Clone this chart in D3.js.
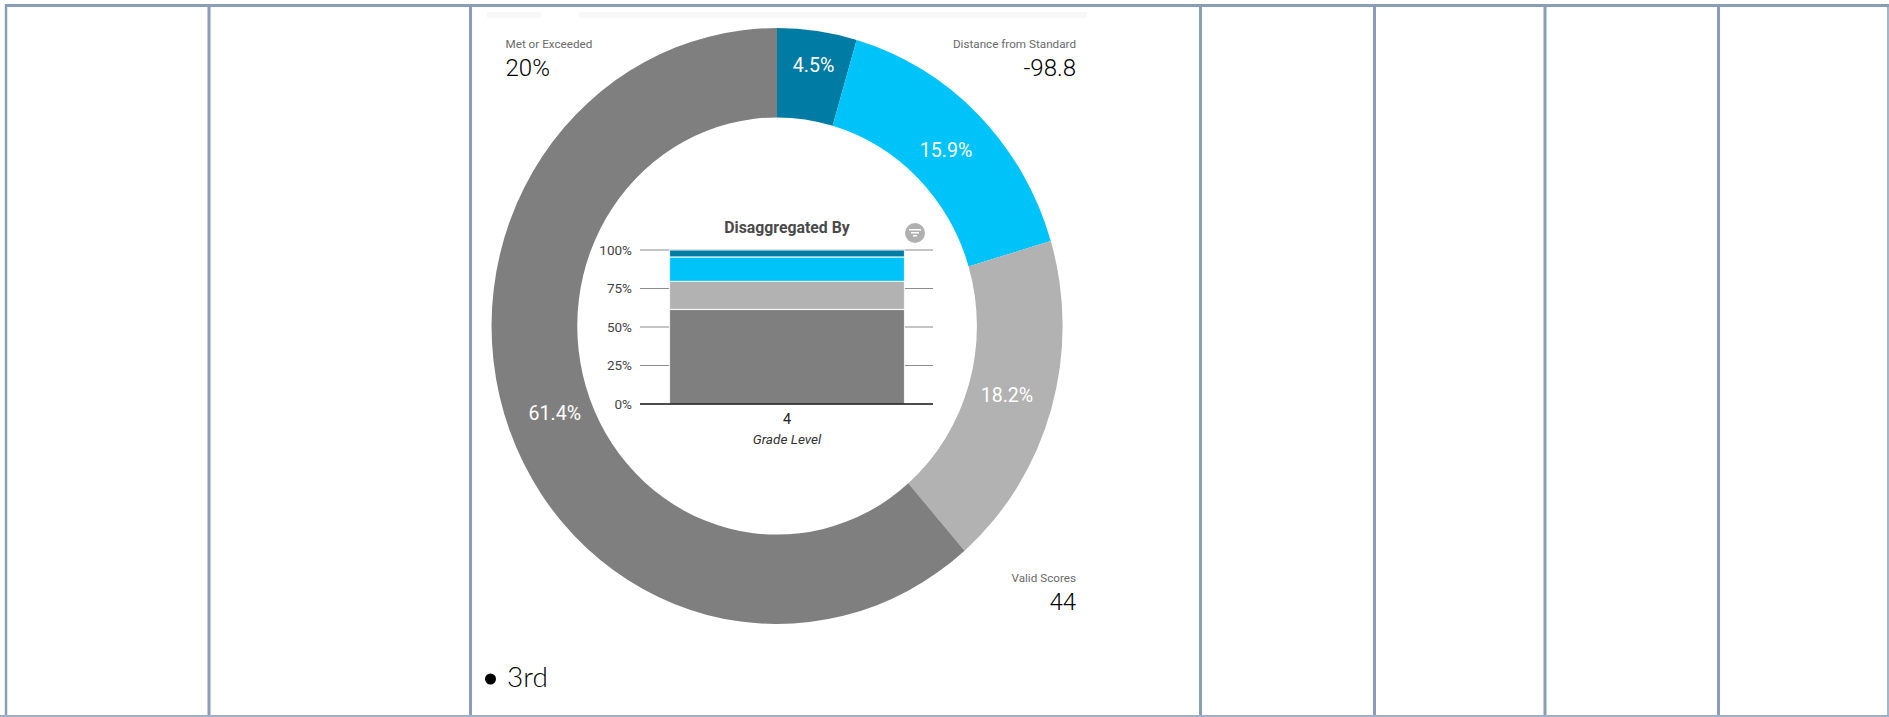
<!DOCTYPE html>
<html>
<head>
<meta charset="utf-8">
<script src="https://cdn.jsdelivr.net/npm/d3@7/dist/d3.min.js"></script>
<style>
  html, body { margin: 0; padding: 0; background: #fff; }
  svg { display: block; }
  text { font-family: Roboto, sans-serif; }
</style>
</head>
<body>
<svg id="chart" width="1889" height="717"></svg>
<script>
// Performance bands, listed clockwise from twelve o'clock
const bandKeys = ["exceeded", "met", "nearly", "notMet"];
const bandValues = [4.5, 15.9, 18.2, 61.4];
const bandColors = ["#007ba3", "#00c3f9", "#b2b2b2", "#7f7f7f"];

// Stacked bar beneath the title, one grade level
const gradeLevels = ["4"];
const gradeTicks = [0, 25, 50, 75, 100];

// Summary figures in the corners
const statNames = ["Met or Exceeded", "Distance from Standard", "Valid Scores"];
const statValues = ["20%", "-98.8", "44"];

const tableColumnEdges = [6, 209, 470.5, 1200.5, 1374.5, 1545, 1718.5, 1888];

const svg = d3.select("#chart");

// Table frame
const frameColor = "#8a9cb8";
svg.append("g").selectAll("line").data(tableColumnEdges).join("line")
  .attr("x1", d => d).attr("x2", d => d)
  .attr("y1", 4).attr("y2", 717)
  .attr("stroke", frameColor)
  .attr("stroke-width", (d, i) => (i === 0 ? 2.5 : i === tableColumnEdges.length - 1 ? 1.5 : 3));
svg.append("line").attr("x1", 5).attr("x2", 1889).attr("y1", 5.5).attr("y2", 5.5)
  .attr("stroke", frameColor).attr("stroke-width", 3);
svg.append("line").attr("x1", 0).attr("x2", 1889).attr("y1", 716).attr("y2", 716)
  .attr("stroke", "#9fb0c8").attr("stroke-width", 2);

// Faint tab strip above the ring
svg.append("g").selectAll("rect").data([[487, 541], [579, 1087]]).join("rect")
  .attr("x", d => d[0]).attr("width", d => d[1] - d[0])
  .attr("y", 12).attr("height", 6).attr("fill", "#f8f8f8");

// Ring: the embedded report is stretched slightly taller than wide
const cx = 777, cy = 326, rx = 285.5, ry = 298;
const innerRatio = 0.7;
const pie = d3.pie().sort(null).value(d => d)(bandValues);
const arc = d3.arc().innerRadius(innerRatio).outerRadius(1);

svg.append("g")
  .attr("transform", `translate(${cx},${cy}) scale(${rx},${ry})`)
  .selectAll("path").data(pie).join("path")
  .attr("d", arc)
  .attr("fill", (d, i) => bandColors[i]);

// Narrow slices carry their label nearer the rim
const labelFraction = d => (d.value < 5 ? 0.885 : 0.835);
svg.append("g").selectAll("text").data(pie).join("text")
  .attr("x", d => cx + rx * labelFraction(d) * Math.sin((d.startAngle + d.endAngle) / 2) + 1)
  .attr("y", d => cy - ry * labelFraction(d) * Math.cos((d.startAngle + d.endAngle) / 2))
  .attr("dy", "0.36em")
  .attr("text-anchor", "middle")
  .attr("fill", "#fff")
  .attr("font-size", 19.6)
  .text(d => d.value + "%");

// Stacked bar
const plotLeft = 640, plotRight = 933;
const x = d3.scaleBand().domain(gradeLevels).range([669.5, 904.5]);
const y = d3.scaleLinear().domain([0, 100]).range([404, 250]);

const yAxis = svg.append("g")
  .attr("transform", `translate(${plotLeft},0)`)
  .call(d3.axisLeft(y).tickValues(gradeTicks).tickFormat(d => d + "%").tickSize(0).tickPadding(8));
yAxis.select(".domain").remove();
yAxis.selectAll("text").attr("font-size", 13.5).attr("fill", "#444").attr("font-family", "Roboto, sans-serif");

svg.append("g").selectAll("line").data(gradeTicks.filter(d => d > 0)).join("line")
  .attr("x1", plotLeft).attr("x2", plotRight)
  .attr("y1", d => y(d)).attr("y2", d => y(d))
  .attr("stroke", "#8c8c8c").attr("stroke-width", 1.2);

const stack = d3.stack().keys([3, 2, 1, 0].map(i => bandKeys[i]))(
  [Object.fromEntries(bandKeys.map((k, i) => [k, bandValues[i]]))]
);
svg.append("g").selectAll("rect").data(stack).join("rect")
  .attr("x", x(gradeLevels[0]))
  .attr("width", x.bandwidth())
  .attr("y", d => y(d[0][1]))
  .attr("height", d => y(d[0][0]) - y(d[0][1]))
  .attr("fill", d => bandColors[bandKeys.indexOf(d.key)])
  .attr("stroke", "#fff").attr("stroke-opacity", 0.8).attr("stroke-width", 1.2);

svg.append("line").attr("x1", plotLeft).attr("x2", plotRight).attr("y1", y(0)).attr("y2", y(0))
  .attr("stroke", "#111").attr("stroke-width", 1.5);

const xAxis = svg.append("g")
  .attr("transform", `translate(0,${y(0)})`)
  .call(d3.axisBottom(x).tickSize(0).tickPadding(10));
xAxis.select(".domain").remove();
xAxis.selectAll("text").attr("font-size", 14.5).attr("fill", "#222").attr("font-family", "Roboto, sans-serif");

svg.append("text").attr("x", 787).attr("y", 444).attr("text-anchor", "middle")
  .attr("font-size", 13.6).attr("font-style", "italic").attr("fill", "#333").text("Grade Level");

svg.append("text").attr("x", 787).attr("y", 233).attr("text-anchor", "middle")
  .attr("font-size", 15.8).attr("font-weight", 700).attr("fill", "#4a4a4a").text("Disaggregated By");

// Filter badge
const badge = svg.append("g").attr("transform", "translate(915,233)");
badge.append("circle").attr("r", 10).attr("fill", "#b0b0b0");
badge.selectAll("rect").data([12, 8, 4]).join("rect")
  .attr("x", d => -d / 2).attr("width", d => d)
  .attr("y", (d, i) => -4 + i * 3).attr("height", 1.5).attr("fill", "#fff");

// Corner statistics
const statAnchors = [
  { x: 505.5, y: 48, anchor: "start" },
  { x: 1076, y: 48, anchor: "end" },
  { x: 1076, y: 582, anchor: "end" }
];
statNames.forEach((name, i) => {
  const s = statAnchors[i];
  svg.append("text").attr("x", s.x).attr("y", s.y).attr("text-anchor", s.anchor)
    .attr("font-size", 11.7).attr("fill", "#6a6a6a").text(name);
  svg.append("text").attr("x", s.x).attr("y", s.y + 27.5).attr("text-anchor", s.anchor)
    .attr("font-size", 24).attr("font-weight", 300).attr("fill", "#000").text(statValues[i]);
});

// Bullet below the ring
svg.append("circle").attr("cx", 490.5).attr("cy", 679).attr("r", 5.5).attr("fill", "#000");
svg.append("text").attr("x", 507).attr("y", 687).attr("font-size", 28)
  .attr("font-weight", 300).attr("fill", "#000")
  .style("font-family", "Lato, sans-serif").text("3rd");
</script>
</body>
</html>
